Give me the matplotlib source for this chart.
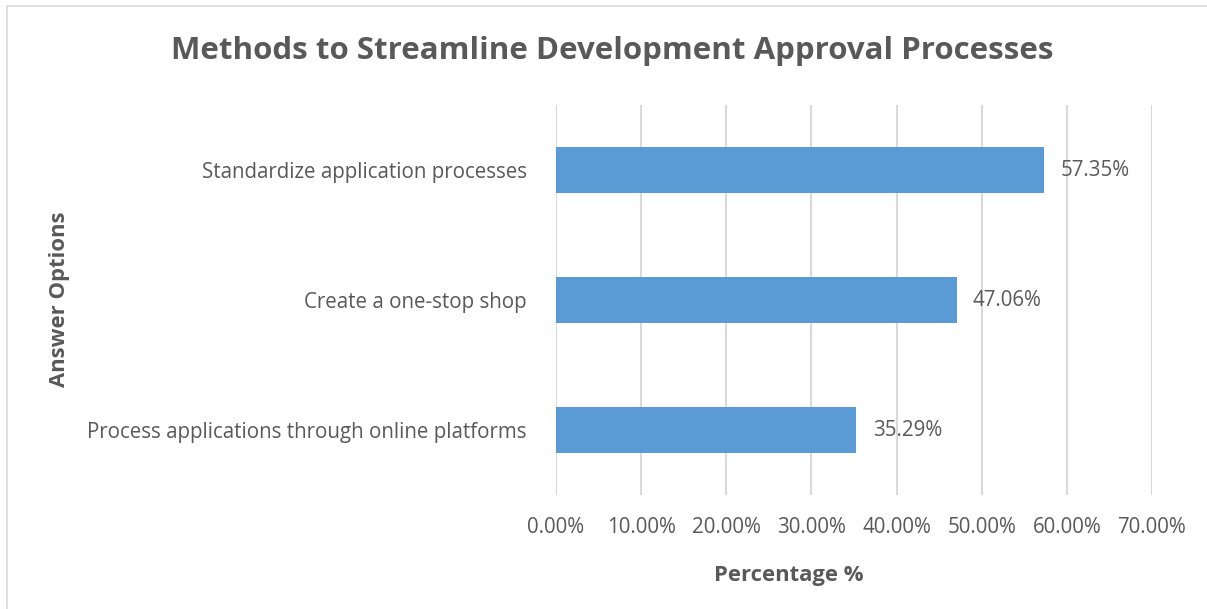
import matplotlib
matplotlib.use("Agg")
import matplotlib.pyplot as plt
from matplotlib.patches import Rectangle

categories = ["Process applications through online platforms",
              "Create a one-stop shop",
              "Standardize application processes"]
values = [35.29, 47.06, 57.35]
xticks = [0, 10, 20, 30, 40, 50, 60, 70]
xtick_labels = ["0.00%", "10.00%", "20.00%", "30.00%", "40.00%", "50.00%", "60.00%", "70.00%"]
title = "Methods to Streamline Development Approval Processes"
xlabel = "Percentage %"
ylabel = "Answer Options"

plt.rcParams['font.family'] = ['Open Sans', 'DejaVu Sans']
TXT = "#595959"
W, H = 1207, 609
fig = plt.figure(figsize=(W/100, H/100), dpi=100)
fig.patches.append(Rectangle((7/W, -0.1), 1.2, 1 - 6/H + 0.1, transform=fig.transFigure,
                             fill=False, edgecolor="#D9D9D9", linewidth=1.2))
ax = fig.add_axes([556/W, 1 - 495/H, 596/W, 390/H])
y = range(len(categories))
bars = ax.barh(y, values, height=0.355, color="#5B9BD5", zorder=3)
ax.set_xlim(0, 70)
ax.set_ylim(-0.5, 2.5)
ax.set_xticks(xticks)
ax.set_xticklabels(xtick_labels)
ax.set_yticks(list(y))
ax.set_yticklabels(categories)
ax.grid(axis='x', color="#D9D9D9", linewidth=1.5, zorder=0)
for s in ax.spines.values():
    s.set_visible(False)
ax.tick_params(axis='both', length=0, labelsize=14.8, colors=TXT)
ax.tick_params(axis='x', pad=16)
ax.tick_params(axis='y', pad=21)
for b, v in zip(bars, values):
    ax.text(v + 1.9, b.get_y() + b.get_height()/2, f"{v:.2f}%", va='center', ha='left',
            fontsize=14.8, color=TXT)
fig.text(612/W, 1 - 51/H, title, ha='center', va='center', fontsize=22.5, fontweight='bold', color=TXT)
fig.text(789/W, 1 - 576/H, xlabel, ha='center', va='center', fontsize=15.8, fontweight='bold', color=TXT)
fig.text(60/W, 1 - 299/H, ylabel, ha='center', va='center', fontsize=15.8, fontweight='bold', color=TXT, rotation=90)
fig.savefig("out.png", dpi=100)
